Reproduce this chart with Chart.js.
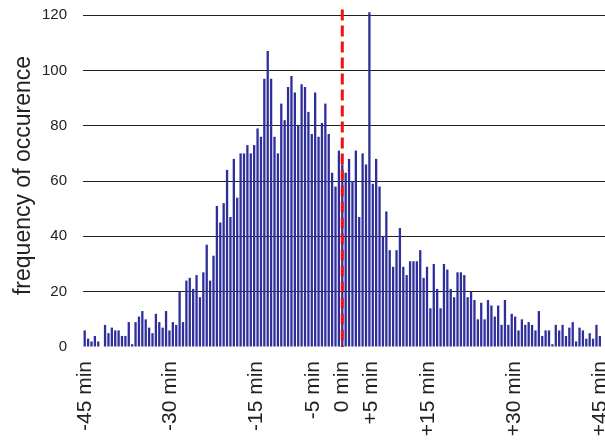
<!DOCTYPE html>
<html>
<head>
<meta charset="utf-8">
<script src="https://cdn.jsdelivr.net/npm/chart.js@4"></script>
<style>
  html, body { margin: 0; padding: 0; background: #fff; }
  #wrap { width: 605px; height: 444px; }
</style>
</head>
<body>
<div id="wrap"><canvas id="histChart"></canvas></div>
<script>
// frequency of each bin, left (-45 min) to right (+45 min)
const counts = [
    6, 3, 2, 4, 2, 0, 8, 5, 7, 6,
    6, 4, 4, 9, 1, 9, 11, 13, 10, 7,
    5, 12, 9, 7, 13, 6, 9, 8, 20, 9,
    24, 25, 21, 26, 18, 27, 37, 24, 33, 51,
    45, 52, 64, 47, 68, 54, 70, 70, 73, 70,
    73, 79, 76, 97, 107, 97, 76, 70, 88, 82,
    94, 98, 92, 80, 95, 94, 85, 77, 92, 76,
    81, 88, 77, 63, 58, 71, 66, 63, 68, 60,
    71, 47, 70, 66, 121, 59, 68, 58, 40, 49,
    35, 29, 35, 43, 29, 26, 31, 31, 31, 35,
    25, 29, 14, 30, 21, 14, 30, 28, 21, 18,
    27, 27, 26, 18, 20, 17, 10, 16, 10, 17,
    15, 11, 15, 8, 17, 8, 12, 11, 6, 10,
    8, 9, 8, 6, 13, 4, 6, 6, 1, 8,
    6, 8, 4, 7, 9, 2, 7, 6, 3, 5,
    3, 8, 4
];

// bins are centred on 0, the middle bin sits on the 0 min line
const centreBin = 76;
const binWidth = 45 / centreBin;
const binCentres = counts.map((c, i) => (i - centreBin) * binWidth);

const xTickValues = [-45, -30, -15, -5, 0, 5, 15, 30, 45];
const xTickLabels = ['-45 min', '-30 min', '-15 min', '-5 min', '0 min', '+5 min', '+15 min', '+30 min', '+45 min'];
const yTickValues = [0, 20, 40, 60, 80, 100, 120];

// red dashed marker
const markerAt = 0;
const markerTop = 122;

const fontFamily = '"Liberation Sans", Arial, sans-serif';
const textColor = '#222';

const ctx = document.getElementById('histChart').getContext('2d');

new Chart(ctx, {
    type: 'bar',
    data: {
        datasets: [
            {
                type: 'line',
                data: [{ x: markerAt, y: markerTop }, { x: markerAt, y: 0 }],
                borderColor: '#ee1111',
                borderWidth: 3,
                borderDash: [11, 5],
                pointRadius: 0,
                fill: false,
                order: 0
            },
            {
                label: 'frequency',
                data: counts.map((c, i) => ({ x: binCentres[i], y: c })),
                backgroundColor: '#2f2f9c',
                borderWidth: 0,
                barPercentage: 0.68,
                categoryPercentage: 1,
                order: 1
            }
        ]
    },
    options: {
        responsive: true,
        maintainAspectRatio: false,
        animation: false,
        layout: { padding: { top: 4, right: 0, bottom: 0, left: 0 } },
        plugins: {
            legend: { display: false },
            tooltip: { enabled: false }
        },
        scales: {
            x: {
                type: 'linear',
                offset: false,
                min: -45.3,
                max: 45.9,
                grid: { display: false, drawTicks: false },
                border: { display: false },
                afterBuildTicks: (scale) => {
                    scale.ticks = xTickValues.map(v => ({ value: v }));
                },
                ticks: {
                    autoSkip: false,
                    minRotation: 90,
                    maxRotation: 90,
                    padding: 14,
                    color: textColor,
                    font: { family: fontFamily, size: 21 },
                    callback: (value) => xTickLabels[xTickValues.indexOf(value)]
                },
                afterFit: (scale) => {
                    scale.height = 97;
                    scale.paddingLeft = 0;
                    scale.paddingRight = 0;
                    scale.paddingTop = 0;
                    scale.paddingBottom = 0;
                }
            },
            y: {
                min: 0,
                max: 124,
                z: 1,
                afterBuildTicks: (scale) => {
                    scale.ticks = yTickValues.map(v => ({ value: v }));
                },
                grid: {
                    drawTicks: false,
                    color: (c) => c.tick && c.tick.value === 0 ? 'rgba(0,0,0,0)' : '#222',
                    lineWidth: 1
                },
                border: { display: false },
                ticks: {
                    padding: 16,
                    color: textColor,
                    font: { family: fontFamily, size: 15 }
                },
                title: {
                    display: true,
                    text: 'frequency of occurence',
                    color: textColor,
                    font: { family: fontFamily, size: 23 },
                    padding: { top: 10, bottom: 0 }
                },
                afterFit: (scale) => {
                    scale.width = 83;
                    scale.paddingTop = 0;
                    scale.paddingBottom = 0;
                }
            }
        }
    }
});
</script>
</body>
</html>
